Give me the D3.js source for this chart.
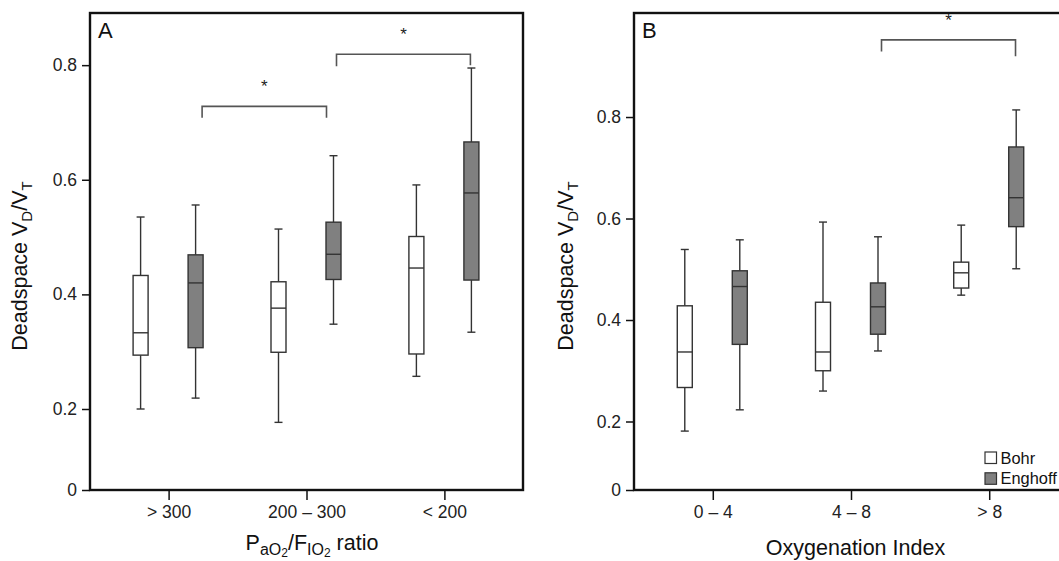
<!DOCTYPE html>
<html lang="en">
<head>
<meta charset="UTF-8">
<title>Deadspace VD/VT by oxygenation</title>
<script src="https://d3js.org/d3.v7.min.js"></script>
<style>
  body { margin: 0; background: #fff; font-family: "Liberation Sans", Arial, sans-serif; }
  svg { display: block; }
  .tick text { font-size: 17.5px; fill: #222; font-family: "Liberation Sans", Arial, sans-serif; }
  .tick line { stroke: #111; stroke-width: 1.5px; }
</style>
</head>
<body>
<svg width="1059" height="561"></svg>
<script>
const methods = ["Bohr", "Enghoff"];
const groupsA = ["> 300", "200 – 300", "< 200"];
const groupsB = ["0 – 4", "4 – 8", "> 8"];
const yTicks = [0, 0.2, 0.4, 0.6, 0.8];

// box stats per group: [min, q1, median, q3, max]
const bohrA    = [[0.200, 0.294, 0.333, 0.433, 0.535], [0.167, 0.299, 0.376, 0.422, 0.514], [0.257, 0.296, 0.446, 0.501, 0.591]];
const enghoffA = [[0.219, 0.307, 0.420, 0.469, 0.556], [0.348, 0.426, 0.470, 0.526, 0.642], [0.334, 0.425, 0.577, 0.666, 0.795]];
const bohrB    = [[0.172, 0.267, 0.337, 0.428, 0.539], [0.260, 0.300, 0.337, 0.435, 0.593], [0.449, 0.463, 0.493, 0.514, 0.587]];
const enghoffB = [[0.223, 0.352, 0.466, 0.497, 0.558], [0.339, 0.372, 0.426, 0.473, 0.564], [0.501, 0.584, 0.641, 0.741, 0.814]];

// significance brackets: [fromGroup, toGroup, bracket level, left leg end, right leg end]
const sigA = [["> 300", "200 – 300", 0.728, 0.708, 0.708], ["200 – 300", "< 200", 0.819, 0.798, 0.800]];
const sigB = [["4 – 8", "> 8", 0.952, 0.929, 0.920]];

const fills = { Bohr: "#ffffff", Enghoff: "#808080" };
const ink = "#333";

const svg = d3.select("svg");

function drawPanel(p) {
    const g = svg.append("g");

    // y axis has a break between 0 and 0.2, so use a piecewise scale
    const y = d3.scaleLinear().domain(p.yDomain).range([p.bottom, p.breakY, p.top]);
    const x = d3.scalePoint().domain(p.groups).range([p.left, p.right]).padding(0.57);
    const xm = d3.scalePoint().domain(methods).range([-28, 27]);
    const boxW = 15, capW = 8;

    // axes
    g.append("g")
        .attr("transform", `translate(${p.left},0)`)
        .call(d3.axisLeft(y).tickValues(yTicks).tickSize(8).tickPadding(5)
            .tickFormat(d => d === 0 ? "0" : d3.format(".1f")(d)))
        .call(a => a.select(".domain").remove());

    g.append("g")
        .attr("transform", `translate(0,${p.bottom})`)
        .call(d3.axisBottom(x).tickSize(10).tickPadding(6))
        .call(a => a.select(".domain").remove());

    g.append("rect")
        .attr("x", p.left).attr("y", p.top)
        .attr("width", p.right - p.left).attr("height", p.bottom - p.top)
        .attr("fill", "none").attr("stroke", "#111").attr("stroke-width", 2.4);

    // boxes
    const rows = [];
    p.groups.forEach((grp, i) => {
        methods.forEach(m => {
            const s = p.stats[m][i];
            rows.push({ grp, m, min: s[0], q1: s[1], med: s[2], q3: s[3], max: s[4] });
        });
    });

    const box = g.selectAll(".box").data(rows).enter().append("g")
        .attr("class", "box")
        .attr("transform", d => `translate(${x(d.grp) + xm(d.m)},0)`)
        .attr("stroke", ink).attr("stroke-width", 1.4);

    box.append("line").attr("y1", d => y(d.q3)).attr("y2", d => y(d.max));
    box.append("line").attr("y1", d => y(d.q1)).attr("y2", d => y(d.min));
    box.append("line").attr("x1", -capW / 2).attr("x2", capW / 2).attr("y1", d => y(d.max)).attr("y2", d => y(d.max));
    box.append("line").attr("x1", -capW / 2).attr("x2", capW / 2).attr("y1", d => y(d.min)).attr("y2", d => y(d.min));
    box.append("rect")
        .attr("x", -boxW / 2).attr("width", boxW)
        .attr("y", d => y(d.q3)).attr("height", d => y(d.q1) - y(d.q3))
        .attr("fill", d => fills[d.m]);
    box.append("line").attr("x1", -boxW / 2).attr("x2", boxW / 2)
        .attr("y1", d => y(d.med)).attr("y2", d => y(d.med));

    // brackets between Enghoff boxes
    p.sig.forEach((s, k) => {
        const x1 = x(s[0]) + xm("Enghoff") + p.nudge[k][0];
        const x2 = x(s[1]) + xm("Enghoff") + p.nudge[k][1];
        g.append("path")
            .attr("d", `M${x1},${y(s[3])}V${y(s[2])}H${x2}V${y(s[4])}`)
            .attr("fill", "none").attr("stroke", "#555").attr("stroke-width", 1.6);
        g.append("text")
            .attr("x", (x1 + x2) / 2).attr("y", y(s[2]) - 14)
            .attr("text-anchor", "middle")
            .style("font-size", "17px").attr("fill", "#222")
            .text("*");
    });

    g.append("text")
        .attr("x", p.left + 8).attr("y", 38)
        .style("font-size", "22px").attr("fill", "#111")
        .text(p.letter);

    // y title with subscripts
    const yt = g.append("text")
        .attr("transform", `translate(${p.left - p.titleGap},266) rotate(-90)`)
        .attr("text-anchor", "middle")
        .style("font-size", "21.5px").attr("fill", "#111");
    yt.append("tspan").text("Deadspace V");
    yt.append("tspan").attr("dy", 5).style("font-size", "15px").text("D");
    yt.append("tspan").attr("dy", -5).text("/V");
    yt.append("tspan").attr("dy", 5).style("font-size", "15px").text("T");

    p.xTitle(g.append("text")
        .attr("x", p.xTitleX).attr("y", p.xTitleY)
        .attr("text-anchor", "middle")
        .style("font-size", "21.5px").attr("fill", "#111"));

    return { g, x, y };
}

drawPanel({
    left: 90, right: 523, top: 13, bottom: 490, breakY: 409,
    yDomain: [0, 0.2, 0.891],
    groups: groupsA,
    stats: { Bohr: bohrA, Enghoff: enghoffA },
    sig: sigA, nudge: [[6.5, -7], [3, -1]],
    letter: "A", titleGap: 63,
    xTitleX: 312, xTitleY: 550,
    xTitle: t => {
        t.append("tspan").text("P");
        t.append("tspan").attr("dy", 5).style("font-size", "16px").text("aO");
        t.append("tspan").attr("dy", 2).style("font-size", "12px").text("2");
        t.append("tspan").attr("dy", -7).text("/F");
        t.append("tspan").attr("dy", 5).style("font-size", "16px").text("IO");
        t.append("tspan").attr("dy", 2).style("font-size", "12px").text("2");
        t.append("tspan").attr("dy", -7).text(" ratio");
    }
});

const pb = drawPanel({
    left: 634, right: 1068, top: 13, bottom: 490, breakY: 421.5,
    yDomain: [0, 0.2, 1.005],
    groups: groupsB,
    stats: { Bohr: bohrB, Enghoff: enghoffB },
    sig: sigB, nudge: [[3.5, -0.7]],
    letter: "B", titleGap: 61,
    xTitleX: 855.5, xTitleY: 555,
    xTitle: t => t.text("Oxygenation Index")
});

// legend
const legend = pb.g.append("g").attr("transform", "translate(985,452)");
const li = legend.selectAll("g").data(methods).enter().append("g")
    .attr("transform", (d, i) => `translate(0,${i * 20.8})`);
li.append("rect").attr("width", 11.5).attr("height", 11.5)
    .attr("fill", d => fills[d]).attr("stroke", ink).attr("stroke-width", 1.2);
li.append("text").attr("x", 15.5).attr("y", 11.5)
    .style("font-size", "16.4px").attr("fill", "#111")
    .text(d => d);
</script>
</body>
</html>
